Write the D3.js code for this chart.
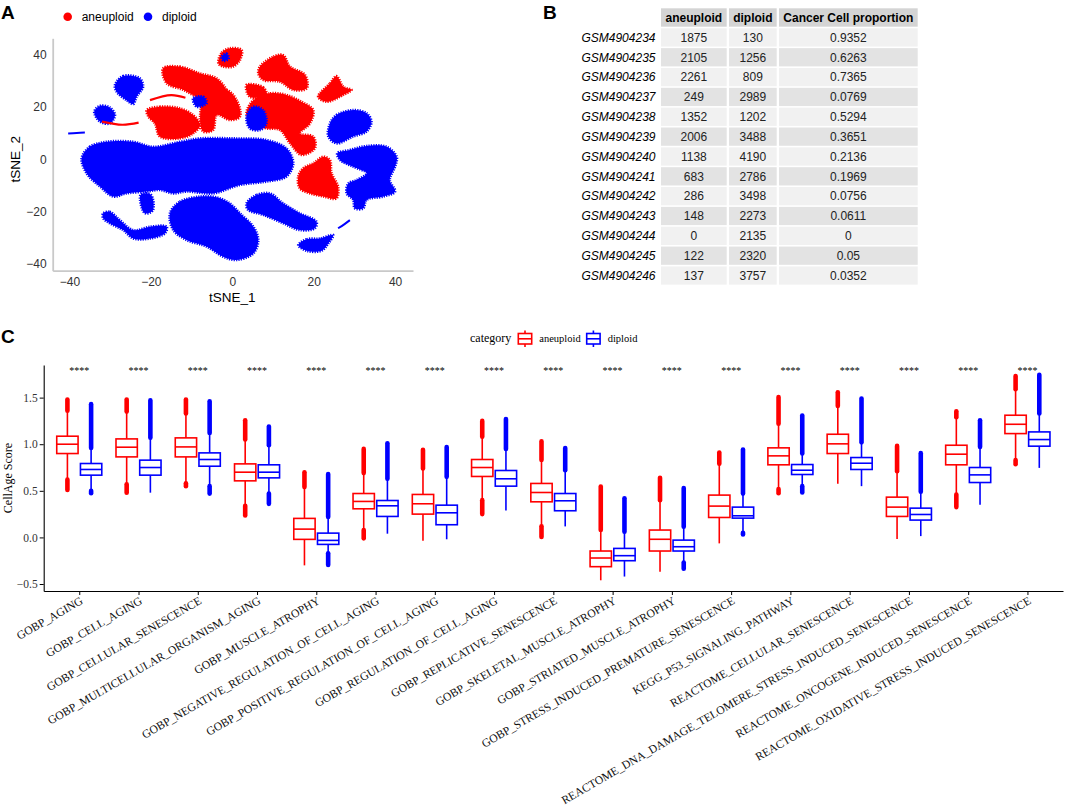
<!DOCTYPE html>
<html lang="en">
<head>
<meta charset="UTF-8">
<title>Aneuploid vs diploid cells</title>
<script src="https://d3js.org/d3.v7.min.js"></script>
<style>
  body { margin: 0; background: #fff; }
  svg { display: block; }
  .sans { font-family: "Liberation Sans", Arial, Helvetica, sans-serif; }
  .serif { font-family: "Liberation Serif", "Times New Roman", serif; }
</style>
</head>
<body>
<svg id="fig" width="1065" height="812"></svg>
<script>
// ---- panel A: tSNE cluster outlines (tSNE units)
const blueClusters = [
  [[-37.0,0.4],[-35.0,4.8],[-30.9,6.7],[-24.3,6.7],[-19.4,4.8],[-12.9,6.7],[-7.9,8.0],[0.2,8.0],[8.4,7.4],[13.3,4.2],[15.0,-1.5],[13.3,-6.6],[8.4,-8.5],[1.9,-9.8],[-4.7,-13.0],[-11.2,-12.3],[-14.5,-13.0],[-17.8,-11.7],[-21.0,-12.3],[-26.0,-13.0],[-29.2,-14.2],[-32.5,-10.4],[-35.8,-5.3]],
  [[-15.3,-20.6],[-12.9,-16.2],[-7.9,-14.2],[-3.8,-14.5],[-0.6,-16.8],[1.9,-20.6],[5.2,-25.7],[6.4,-30.8],[5.2,-35.9],[1.1,-38.4],[-2.2,-37.2],[-6.3,-33.3],[-11.2,-30.8],[-14.5,-27.0]],
  [[3.5,-16.8],[6.0,-13.6],[9.3,-13.0],[12.5,-16.8],[16.6,-20.6],[20.7,-23.8],[20.3,-26.3],[16.6,-27.0],[12.5,-24.4],[7.6,-21.2],[3.9,-19.3]],
  [[-31.7,-20.6],[-30.1,-20.0],[-27.6,-23.2],[-24.3,-27.0],[-20.2,-25.7],[-16.1,-25.7],[-16.5,-28.2],[-20.2,-30.2],[-24.3,-30.2],[-26.8,-27.0],[-30.1,-24.4],[-31.7,-22.5]],
  [[-22.5,-13.5],[-20.0,-13.5],[-19.5,-19.5],[-21.5,-20.5]],
  [[-28.8,28.4],[-26.8,31.8],[-22.7,30.9],[-21.9,27.7],[-23.5,23.9],[-24.3,21.1],[-26.0,22.6],[-28.4,25.8]],
  [[-33.9,18.2],[-32.5,20.4],[-30.1,19.8],[-28.8,16.9],[-30.1,13.7],[-32.5,14.4]],
  [[24.0,13.7],[25.6,16.9],[29.7,18.8],[33.0,17.6],[34.2,14.4],[33.0,10.6],[29.7,8.7],[25.6,6.1],[23.6,8.7]],
  [[25.8,2.3],[28.9,3.6],[33.0,5.1],[37.9,4.8],[40.4,1.0],[40.0,-2.8],[38.7,-7.9],[40.0,-12.3],[37.1,-14.2],[33.0,-15.5],[32.2,-18.7],[30.1,-18.7],[29.7,-15.5],[28.1,-13.0],[28.5,-9.2],[30.5,-7.9],[33.0,-5.3],[29.7,-2.8],[26.5,-0.3]],
  [[16.2,-32.7],[18.3,-30.5],[21.5,-30.2],[24.8,-28.9],[23.6,-32.1],[21.9,-34.9],[18.3,-34.9]]
];
const redClusters = [
  [[-17.0,34.7],[-12.9,35.4],[-7.9,32.8],[-3.8,30.9],[-1.4,26.5],[-0.6,22.6],[-3.0,21.4],[-6.3,22.6],[-8.8,23.9],[-12.0,26.5],[-16.1,29.0]],
  [[-21.0,18.8],[-17.8,20.1],[-12.9,19.5],[-9.6,16.9],[-7.9,13.1],[-9.6,9.9],[-12.9,8.0],[-17.8,8.7],[-19.0,13.7],[-20.6,16.3]],
  [[-6.3,25.2],[-1.4,26.5],[1.1,22.6],[1.9,16.3],[-0.6,15.0],[-3.8,16.9],[-4.7,11.2],[-7.1,10.6],[-7.9,16.3]],
  [[6.8,35.4],[10.1,39.2],[12.5,39.8],[14.2,35.4],[17.9,32.2],[18.3,27.1],[15.0,26.5],[11.7,29.6],[7.6,30.3],[6.4,32.8]],
  [[21.1,23.9],[24.0,29.0],[25.6,31.8],[27.3,27.7],[29.3,26.5],[27.3,24.6],[23.2,22.0]],
  [[5.2,22.6],[9.3,25.2],[13.3,24.6],[17.0,22.0],[19.9,18.8],[19.1,13.7],[16.6,9.9],[19.9,8.7],[20.3,4.2],[17.0,1.7],[14.2,6.1],[11.7,11.2],[8.4,11.8],[5.2,13.7],[3.5,17.6]],
  [[16.2,-6.6],[17.4,-3.4],[19.9,-1.5],[22.4,1.0],[24.0,-0.3],[24.4,-5.3],[26.0,-10.4],[25.6,-14.9],[22.4,-14.2],[19.1,-13.0],[16.6,-11.1]],
  [[3.5,28.4],[7.6,27.5],[8.4,24.6],[4.3,23.9]],
  [[-3.4,36.6],[-2.6,40.7],[-0.6,42.4],[2.3,41.7],[1.9,37.9],[0.2,35.4],[-2.2,35.4]]
];
// blue cells mixed into the red area
const blueOverlay = [
  [[3.5,16.3],[5.2,20.1],[7.6,18.8],[8.4,13.7],[6.8,11.2],[4.3,11.8]],
  [[-9.6,23.3],[-7.1,23.9],[-6.3,21.4],[-8.8,20.1]],
  [[-2.6,39.2],[-1.4,40.4],[-0.9,38.4],[-2.2,37.6]]
];
const blueStreaks = [
  [[-40.3,9.9],[-38.2,10.1],[-36.2,10.2]],
  [[26.0,-26.3],[27.5,-24.8],[28.9,-23.2]]
];
const redStreaks = [
  [[-32.0,14.4],[-27.0,13.2],[-23.0,14.0]],
  [[-20.2,22.6],[-15.0,24.5],[-11.5,23.5]]
];
const groups = ["aneuploid", "diploid"];
const tsneTicks = [-40, -20, 0, 20, 40];

// ---- panel B: cell counts per sample
const sampleIds = ["GSM4904234","GSM4904235","GSM4904236","GSM4904237","GSM4904238","GSM4904239","GSM4904240","GSM4904241","GSM4904242","GSM4904243","GSM4904244","GSM4904245","GSM4904246"];
const aneuCount = [1875, 2105, 2261, 249, 1352, 2006, 1138, 683, 286, 148, 0, 122, 137];
const dipCount = [130, 1256, 809, 2989, 1202, 3488, 4190, 2786, 3498, 2273, 2135, 2320, 3757];
const cancerProp = ["0.9352","0.6263","0.7365","0.0769","0.5294","0.3651","0.2136","0.1969","0.0756","0.0611","0","0.05","0.0352"];
const tableHeaders = ["aneuploid", "diploid", "Cancer Cell proportion"];

// ---- panel C: CellAge score boxplots
const gene_sets = ["GOBP_AGING","GOBP_CELL_AGING","GOBP_CELLULAR_SENESCENCE","GOBP_MULTICELLULAR_ORGANISM_AGING","GOBP_MUSCLE_ATROPHY","GOBP_NEGATIVE_REGULATION_OF_CELL_AGING","GOBP_POSITIVE_REGULATION_OF_CELL_AGING","GOBP_REGULATION_OF_CELL_AGING","GOBP_REPLICATIVE_SENESCENCE","GOBP_SKELETAL_MUSCLE_ATROPHY","GOBP_STRIATED_MUSCLE_ATROPHY","GOBP_STRESS_INDUCED_PREMATURE_SENESCENCE","KEGG_P53_SIGNALING_PATHWAY","REACTOME_CELLULAR_SENESCENCE","REACTOME_DNA_DAMAGE_TELOMERE_STRESS_INDUCED_SENESCENCE","REACTOME_ONCOGENE_INDUCED_SENESCENCE","REACTOME_OXIDATIVE_STRESS_INDUCED_SENESCENCE"];
// aneuploid
const aneuMin = [0.51, 0.48, 0.55, 0.236, -0.30, -0.01, -0.036, 0.25, 0.004, -0.46, -0.368, -0.064, 0.475, 0.575, -0.018, 0.325, 0.786];
const aneuLo  = [0.62, 0.57, 0.58, 0.34, -0.30, 0.08, -0.036, 0.40, 0.12, -0.46, -0.368, -0.064, 0.52, 0.575, -0.018, 0.46, 0.83];
const aneuQ1  = [0.90, 0.864, 0.864, 0.607, -0.021, 0.307, 0.25, 0.654, 0.382, -0.314, -0.146, 0.214, 0.779, 0.90, 0.225, 0.779, 1.114];
const aneuMed = [1.00, 0.968, 0.971, 0.70, 0.089, 0.386, 0.361, 0.75, 0.482, -0.221, -0.02, 0.336, 0.875, 1.004, 0.325, 0.893, 1.214];
const aneuQ3  = [1.086, 1.057, 1.068, 0.789, 0.204, 0.471, 0.461, 0.836, 0.579, -0.146, 0.079, 0.454, 0.961, 1.107, 0.432, 0.989, 1.311];
const aneuHi  = [1.36, 1.35, 1.33, 1.05, 0.54, 0.69, 0.74, 1.08, 0.83, 0.08, 0.40, 0.79, 1.22, 1.41, 0.71, 1.29, 1.59];
const aneuMax = [1.48, 1.48, 1.48, 1.257, 0.70, 0.95, 0.94, 1.25, 1.03, 0.546, 0.64, 0.91, 1.507, 1.557, 0.982, 1.354, 1.732];
// diploid
const dipMin = [0.475, 0.48, 0.47, 0.36, -0.296, 0.04, -0.02, 0.286, 0.118, -0.42, -0.336, 0.032, 0.482, 0.55, 0.014, 0.35, 0.746];
const dipLo  = [0.50, 0.48, 0.55, 0.47, -0.17, 0.04, -0.02, 0.29, 0.118, -0.42, -0.27, 0.05, 0.55, 0.55, 0.014, 0.35, 0.746];
const dipQ1  = [0.668, 0.668, 0.764, 0.639, -0.075, 0.225, 0.136, 0.55, 0.286, -0.25, -0.146, 0.207, 0.675, 0.729, 0.186, 0.589, 0.979];
const dipMed = [0.729, 0.75, 0.836, 0.70, -0.032, 0.339, 0.264, 0.629, 0.393, -0.196, -0.10, 0.232, 0.721, 0.796, 0.246, 0.671, 1.05];
const dipQ3  = [0.793, 0.829, 0.907, 0.779, 0.046, 0.396, 0.346, 0.718, 0.471, -0.118, -0.029, 0.325, 0.782, 0.857, 0.314, 0.75, 1.132];
const dipHi  = [0.96, 1.07, 1.12, 0.99, 0.22, 0.63, 0.65, 0.95, 0.72, 0.06, 0.114, 0.47, 0.90, 1.02, 0.49, 0.97, 1.33];
const dipMax = [1.43, 1.47, 1.46, 1.19, 0.68, 1.01, 0.97, 1.27, 0.96, 0.42, 0.53, 0.943, 1.307, 1.49, 0.904, 1.257, 1.746];
const sigLabels = gene_sets.map(() => "****");
const scoreTicks = [-0.5, 0, 0.5, 1.0, 1.5];

const colors = { aneuploid: "#ff0000", diploid: "#0000ff" };
const svg = d3.select("#fig");

// panel letters
[["A", 1, 18.5], ["B", 543, 18.5], ["C", 1, 343]].forEach(([t, x, y]) => {
  svg.append("text").attr("class", "sans").attr("x", x).attr("y", y)
    .attr("font-size", 19).attr("font-weight", "bold").text(t);
});

// ================= Panel A =================
const xA = d3.scaleLinear().domain([-44.1, 44.4]).range([52.7, 413]);
const yA = d3.scaleLinear().domain([-42.5, 46.2]).range([270.7, 38.3]);
const gA = svg.append("g");
const blob = d3.line().x(d => xA(d[0])).y(d => yA(d[1])).curve(d3.curveCatmullRomClosed.alpha(0.5));
const streak = d3.line().x(d => xA(d[0])).y(d => yA(d[1])).curve(d3.curveCatmullRom.alpha(0.5));

function drawBlobs(list, col) {
  gA.selectAll(null).data(list).join("path")
    .attr("d", blob).attr("fill", col).attr("stroke", col)
    .attr("stroke-width", 2.6).attr("stroke-dasharray", "1.2 1.2");
}
drawBlobs(blueClusters, colors.diploid);
drawBlobs(redClusters, colors.aneuploid);
drawBlobs(blueOverlay, colors.diploid);
gA.selectAll(null).data(blueStreaks).join("path").attr("d", streak)
  .attr("fill", "none").attr("stroke", colors.diploid).attr("stroke-width", 2);
gA.selectAll(null).data(redStreaks).join("path").attr("d", streak)
  .attr("fill", "none").attr("stroke", colors.aneuploid).attr("stroke-width", 2.2);

// axes
const axA_y = gA.append("g").attr("class", "sans").attr("transform", `translate(${xA.range()[0]},0)`)
  .call(d3.axisLeft(yA).tickValues(tsneTicks).tickSize(0).tickPadding(6));
const axA_x = gA.append("g").attr("class", "sans").attr("transform", `translate(0,${yA.range()[0]})`)
  .call(d3.axisBottom(xA).tickValues(tsneTicks).tickSize(0).tickPadding(7));
[axA_y, axA_x].forEach(a => {
  a.select(".domain").attr("stroke", "#c9c9c9").attr("stroke-width", 1.8);
  a.selectAll("text").attr("font-size", 12).attr("fill", "#333");
});
gA.append("text").attr("class", "sans").attr("x", xA(0)).attr("y", 302)
  .attr("text-anchor", "middle").attr("font-size", 13.5).text("tSNE_1");
gA.append("text").attr("class", "sans")
  .attr("transform", `translate(20,${yA(0)}) rotate(-90)`)
  .attr("text-anchor", "middle").attr("font-size", 13.5).text("tSNE_2");

// legend A
const legA = gA.append("g").attr("class", "sans");
const legAx = [67.7, 148];
groups.forEach((g, i) => {
  legA.append("circle").attr("cx", legAx[i]).attr("cy", 16.7).attr("r", 4.3).attr("fill", colors[g]);
  legA.append("text").attr("x", legAx[i] + 14).attr("y", 21).attr("font-size", 12).text(g);
});

// ================= Panel B =================
const gB = svg.append("g").attr("class", "sans");
const rowY = d3.scaleBand().domain(sampleIds).range([28.3, 28.3 + 13 * 19.72]).paddingInner(0.08).paddingOuter(0);
const colEdges = [[661, 726.7], [729, 776.7], [779, 917.7]];
const headTop = 8.3, headH = 18.4;
colEdges.forEach((c, j) => {
  gB.append("rect").attr("x", c[0]).attr("y", headTop).attr("width", c[1] - c[0]).attr("height", headH).attr("fill", "#d4d4d4");
  gB.append("text").attr("x", (c[0] + c[1]) / 2).attr("y", headTop + headH / 2 + 4.3)
    .attr("text-anchor", "middle").attr("font-size", 12).attr("font-weight", "bold").text(tableHeaders[j]);
});
const columns = [aneuCount, dipCount, cancerProp];
sampleIds.forEach((id, i) => {
  const y0 = rowY(id), h = rowY.bandwidth();
  gB.append("text").attr("x", 655.5).attr("y", y0 + h / 2 + 4.3).attr("text-anchor", "end")
    .attr("font-size", 12).attr("font-style", "italic").text(id);
  columns.forEach((col, j) => {
    const c = colEdges[j];
    gB.append("rect").attr("x", c[0]).attr("y", y0).attr("width", c[1] - c[0]).attr("height", h)
      .attr("fill", i % 2 === 0 ? "#f1f1f1" : "#e3e3e3");
    gB.append("text").attr("x", (c[0] + c[1]) / 2).attr("y", y0 + h / 2 + 4.3)
      .attr("text-anchor", "middle").attr("font-size", 12).attr("fill", "#222").text(col[i]);
  });
});

// ================= Panel C =================
const xC = d3.scalePoint().domain(gene_sets).range([43.7, 1063]).padding(0.6);
const yC = d3.scaleLinear().domain([-0.575, 1.85]).range([591, 365]);
const gC = svg.append("g");
const step = xC.step();
const boxW = step * 0.36;
const series = [
  { key: "aneuploid", off: -0.2, min: aneuMin, lo: aneuLo, q1: aneuQ1, med: aneuMed, q3: aneuQ3, hi: aneuHi, max: aneuMax },
  { key: "diploid", off: 0.2, min: dipMin, lo: dipLo, q1: dipQ1, med: dipMed, q3: dipQ3, hi: dipHi, max: dipMax }
];

gene_sets.forEach((name, i) => {
  series.forEach(s => {
    const cx = xC(name) + s.off * step;
    const col = colors[s.key];
    const g = gC.append("g");
    // outlier runs (dense columns of points)
    if (s.max[i] > s.hi[i] + 0.004)
      g.append("line").attr("x1", cx).attr("x2", cx).attr("y1", yC(s.hi[i])).attr("y2", yC(s.max[i]))
        .attr("stroke", col).attr("stroke-width", 4.6).attr("stroke-linecap", "round");
    if (s.min[i] < s.lo[i] - 0.004)
      g.append("line").attr("x1", cx).attr("x2", cx).attr("y1", yC(s.lo[i])).attr("y2", yC(s.min[i]))
        .attr("stroke", col).attr("stroke-width", 4.6).attr("stroke-linecap", "round");
    // whiskers
    g.append("line").attr("x1", cx).attr("x2", cx).attr("y1", yC(s.q3[i])).attr("y2", yC(s.hi[i]))
      .attr("stroke", col).attr("stroke-width", 1.6);
    g.append("line").attr("x1", cx).attr("x2", cx).attr("y1", yC(s.q1[i])).attr("y2", yC(s.lo[i]))
      .attr("stroke", col).attr("stroke-width", 1.6);
    // box + median
    g.append("rect").attr("x", cx - boxW / 2).attr("width", boxW)
      .attr("y", yC(s.q3[i])).attr("height", yC(s.q1[i]) - yC(s.q3[i]))
      .attr("fill", "#fff").attr("stroke", col).attr("stroke-width", 1.6);
    g.append("line").attr("x1", cx - boxW / 2).attr("x2", cx + boxW / 2)
      .attr("y1", yC(s.med[i])).attr("y2", yC(s.med[i])).attr("stroke", col).attr("stroke-width", 1.6);
  });
  gC.append("text").attr("class", "serif").attr("x", xC(name)).attr("y", 374)
    .attr("text-anchor", "middle").attr("font-size", 10).text(sigLabels[i]);
});

// axes C
const axC_y = gC.append("g").attr("class", "serif").attr("transform", `translate(${xC.range()[0]},0)`)
  .call(d3.axisLeft(yC).tickValues(scoreTicks).tickFormat(d3.format(".1f")).tickSize(4).tickSizeOuter(0).tickPadding(2));
const axC_x = gC.append("g").attr("class", "serif").attr("transform", `translate(0,${yC.range()[0]})`)
  .call(d3.axisBottom(xC).tickSize(4).tickSizeOuter(0));
[axC_y, axC_x].forEach(a => {
  a.select(".domain").attr("stroke", "#000").attr("stroke-width", 1.1);
  a.selectAll(".tick line").attr("stroke", "#000");
});
axC_y.selectAll("text").attr("font-size", 11.5).attr("fill", "#333");
axC_x.selectAll("text")
  .attr("font-size", 11.6).attr("fill", "#111")
  .attr("text-anchor", "end").attr("y", 0).attr("dy", 0)
  .attr("transform", "translate(4,12) rotate(-30)");

gC.append("text").attr("class", "serif")
  .attr("transform", `translate(12,${(yC.range()[0] + yC.range()[1]) / 2}) rotate(-90)`)
  .attr("text-anchor", "middle").attr("font-size", 12).text("CellAge Score");

// legend C
const legC = gC.append("g").attr("class", "serif");
legC.append("text").attr("x", 470).attr("y", 342).attr("font-size", 12).text("category");
const keyX = [518.3, 586.7];
groups.forEach((g, i) => {
  const col = colors[g], kx = keyX[i];
  legC.append("line").attr("x1", kx + 6.7).attr("x2", kx + 6.7).attr("y1", 330.5).attr("y2", 347)
    .attr("stroke", col).attr("stroke-width", 1.6);
  legC.append("rect").attr("x", kx).attr("y", 333.5).attr("width", 13.4).attr("height", 10.5)
    .attr("fill", "#fff").attr("stroke", col).attr("stroke-width", 1.6);
  legC.append("line").attr("x1", kx).attr("x2", kx + 13.4).attr("y1", 338.8).attr("y2", 338.8)
    .attr("stroke", col).attr("stroke-width", 1.6);
  legC.append("text").attr("x", kx + 21).attr("y", 342).attr("font-size", 10.5).text(g);
});
</script>
</body>
</html>
